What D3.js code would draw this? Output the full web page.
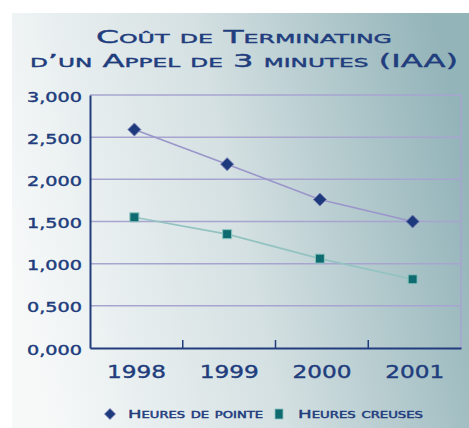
<!DOCTYPE html>
<html><head><meta charset="utf-8">
<script src="https://cdn.jsdelivr.net/npm/d3@7"></script>
<style>
html,body{margin:0;padding:0;background:#fff;}
svg{display:block;}
text{font-family:"DejaVu Sans",sans-serif;fill:#213d7d;stroke:#213d7d;stroke-width:0.4;}
</style></head>
<body>
<svg id="chart" width="469" height="428"></svg>
<script>
const years = ["1998","1999","2000","2001"];
const peak = [2.59, 2.18, 1.76, 1.50];
const offPeak = [1.55, 1.35, 1.06, 0.815];
const yTicks = [0, 0.5, 1, 1.5, 2, 2.5, 3];
const titleLines = ["Coût de Terminating", "d\u2019un Appel de 3 minutes (IAA)"];
const seriesNames = ["Heures de pointe", "Heures creuses"];

const svg = d3.select("#chart");
const defs = svg.append("defs");
const grad = defs.append("linearGradient").attr("id","bg")
  .attr("x1","0").attr("y1","0.6").attr("x2","1").attr("y2","0.4");
grad.append("stop").attr("offset","0").attr("stop-color","#f7f9f9");
grad.append("stop").attr("offset","0.5").attr("stop-color","#d4e0e2");
grad.append("stop").attr("offset","1").attr("stop-color","#93b4b9");
svg.append("rect").attr("x",12).attr("y",13).attr("width",457).attr("height",415).attr("fill","url(#bg)");

const navy = "#213d7d";
const grid = "#a7a5d0";

// title
const tl = [{t:titleLines[0], y:43, len:296},{t:titleLines[1], y:67, len:428}];
svg.selectAll(".title").data(tl).enter().append("text")
  .attr("x",244).attr("y",d=>d.y).attr("text-anchor","middle")
  .attr("font-size",18).style("font-variant","small-caps")
  .attr("textLength",d=>d.len).attr("lengthAdjust","spacingAndGlyphs")
  .text(d=>d.t);

const x = d3.scaleBand().domain(years).range([90,461]).padding(0);
const y = d3.scaleLinear().domain([0,3]).range([348,95]);
const fmt = d3.formatLocale({decimal:",", thousands:".", grouping:[3], currency:["",""]}).format(".3f");

// gridlines
svg.append("g").selectAll("line").data(yTicks.filter(v=>v>0)).enter().append("line")
  .attr("x1",90).attr("x2",461).attr("y1",d=>y(d)).attr("y2",d=>y(d))
  .attr("stroke",grid).attr("stroke-width",1.5);
svg.append("line").attr("x1",461).attr("x2",461).attr("y1",y(3)).attr("y2",y(0))
  .attr("stroke",grid).attr("stroke-width",1.5);

// y axis
const yAxis = svg.append("g").attr("transform","translate(90,0)")
  .call(d3.axisLeft(y).tickValues(yTicks).tickSize(0).tickFormat(fmt));
yAxis.select(".domain").attr("stroke",navy).attr("stroke-width",2);
yAxis.selectAll("text").attr("x",-8).attr("dy",null).attr("y",6)
  .attr("font-size",13.5).attr("fill",navy)
  .attr("font-family","DejaVu Sans").attr("textLength",55).attr("lengthAdjust","spacingAndGlyphs");

// x axis
const xAxis = svg.append("g").attr("transform","translate(0,348)")
  .call(d3.axisBottom(x).tickSize(0).tickSizeOuter(0));
xAxis.select(".domain").attr("stroke",navy).attr("stroke-width",2);
xAxis.selectAll("text").attr("y",30).attr("dy",null)
  .attr("font-size",17.5).attr("fill",navy)
  .attr("font-family","DejaVu Sans").attr("textLength",59).attr("lengthAdjust","spacingAndGlyphs");
svg.append("g").selectAll("line").data(years.slice(1)).enter().append("line")
  .attr("x1",d=>x(d)).attr("x2",d=>x(d)).attr("y1",348).attr("y2",340)
  .attr("stroke",navy).attr("stroke-width",1.5);

const cx = d => x(d) + x.bandwidth()/2 - 2;

// lines
const line = d3.line().x((d,i)=>cx(years[i])).y(d=>y(d));
svg.append("path").datum(peak).attr("d",line).attr("fill","none").attr("stroke","#9a95ca").attr("stroke-width",1.6);
svg.append("path").datum(offPeak).attr("d",line).attr("fill","none").attr("stroke","#92c3c1").attr("stroke-width",1.6);

const diamond = (px,py,r) => `M${px},${py-r}L${px+r},${py}L${px},${py+r}L${px-r},${py}Z`;
svg.append("g").selectAll("path").data(peak).enter().append("path")
  .attr("d",(d,i)=>diamond(cx(years[i]), y(d), 6.5))
  .attr("fill","#1d3a7c").attr("stroke","#7b7fb8").attr("stroke-width",1);
svg.append("g").selectAll("rect").data(offPeak).enter().append("rect")
  .attr("x",(d,i)=>cx(years[i])-4.5).attr("y",d=>y(d)-4.5).attr("width",9).attr("height",9)
  .attr("fill","#0e6b70").attr("stroke","#8ec4c0").attr("stroke-width",1);

// legend
svg.append("path").attr("d",diamond(110,414,5.5)).attr("fill","#1d3a7c").attr("stroke","#7b7fb8").attr("stroke-width",0.8);
svg.append("rect").attr("x",275).attr("y",409).attr("width",8).attr("height",10)
  .attr("fill","#0e6b70").attr("stroke","#8ec4c0").attr("stroke-width",0.8);
const leg = [{t:seriesNames[0], x:128, len:135},{t:seriesNames[1], x:298, len:125}];
svg.selectAll(".leg").data(leg).enter().append("text")
  .attr("x",d=>d.x).attr("y",418).attr("font-size",11)
  .style("font-variant","small-caps").attr("textLength",d=>d.len).attr("lengthAdjust","spacingAndGlyphs")
  .text(d=>d.t);
</script>
</body></html>
